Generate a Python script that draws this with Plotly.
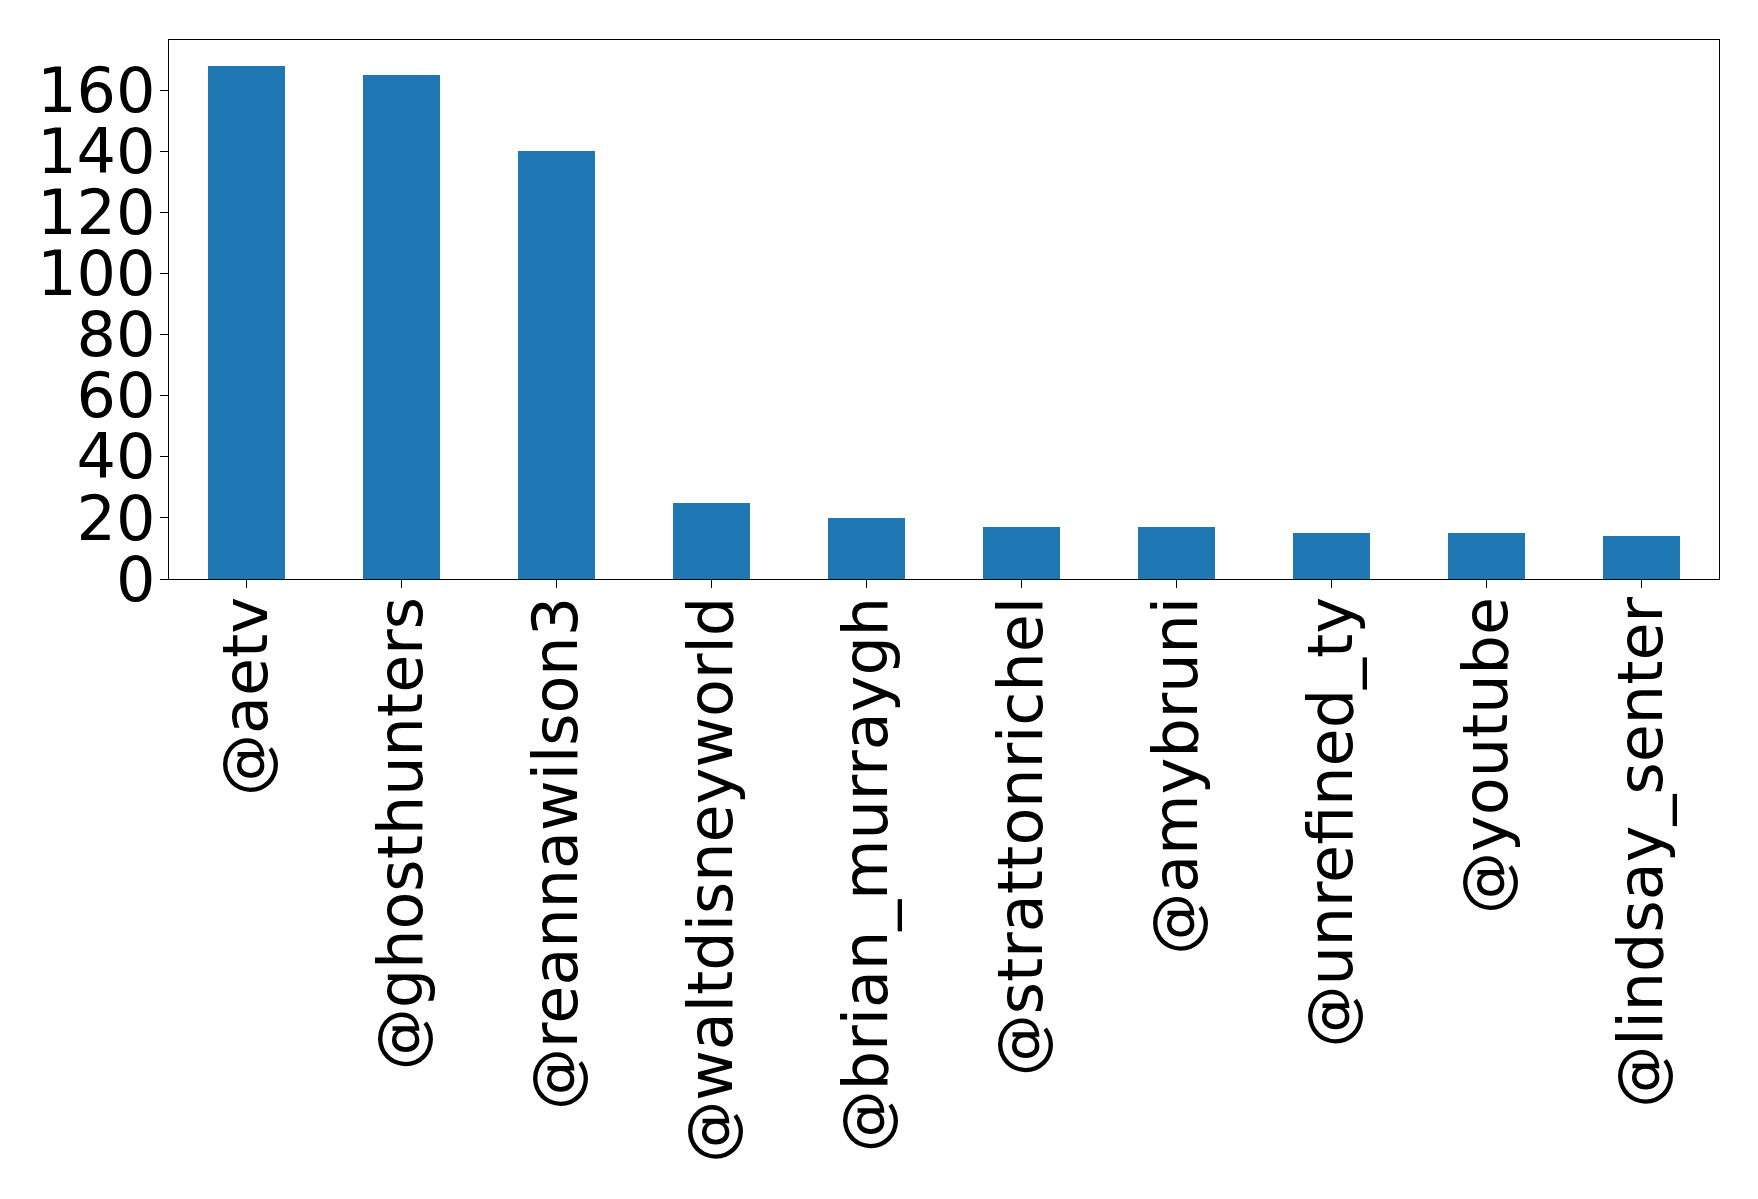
import plotly.graph_objects as go

categories = ["@aetv", "@ghosthunters", "@reannawilson3", "@waltdisneyworld",
              "@brian_murraygh", "@strattonrichel", "@amybruni", "@unrefined_ty",
              "@youtube", "@lindsay_senter"]
values = [168, 165, 140, 25, 20, 17, 17, 15, 15, 14]
y_ticks = [0, 20, 40, 60, 80, 100, 120, 140, 160]

fig = go.Figure(go.Bar(
    x=list(range(len(categories))), y=values,
    width=0.5, marker=dict(color="#1f77b4", line=dict(width=0)),
))

font = dict(family="DejaVu Sans", size=62, color="black")
fig.update_layout(
    width=1758, height=1199,
    margin=dict(l=161, r=47, t=32, b=628),
    paper_bgcolor="white", plot_bgcolor="white",
    showlegend=False,
    bargap=0,
)
fig.update_xaxes(
    range=[-0.5, len(categories) - 0.5],
    tickmode="array", tickvals=list(range(len(categories))), ticktext=categories,
    tickangle=-90, tickfont=font, ticklabelstandoff=-16,
    showline=True, linecolor="black", linewidth=1.2, mirror=True,
    ticks="outside", ticklen=8, tickcolor="black", showgrid=False, zeroline=False,
)
fig.update_yaxes(
    range=[0, 176.4],
    tickmode="array", tickvals=y_ticks, ticktext=[str(t) for t in y_ticks],
    tickfont=font, ticklabelstandoff=-8,
    showline=True, linecolor="black", linewidth=1.2, mirror=True,
    ticks="outside", ticklen=8, tickcolor="black", showgrid=False, zeroline=False,
)
fig.write_html("out.html")
